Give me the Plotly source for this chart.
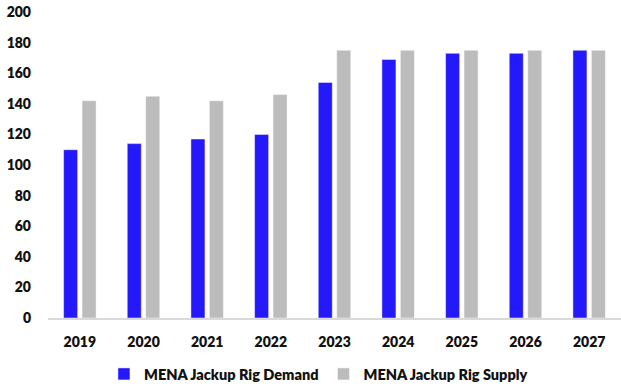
import plotly.graph_objects as go

# MENA jackup rig market: demand vs supply by year
years = ["2019", "2020", "2021", "2022", "2023", "2024", "2025", "2026", "2027"]
demand = [110, 114, 117, 120, 154, 169, 173, 173, 175]
supply = [142, 145, 142, 146, 175, 175, 175, 175, 175]
y_ticks = [0, 20, 40, 60, 80, 100, 120, 140, 160, 180, 200]
series_names = ["MENA Jackup Rig Demand", "MENA Jackup Rig Supply"]

font_family = "Lato, Liberation Sans, Arial, sans-serif"
edge = dict(color="rgba(255,255,255,0.45)", width=1)

fig = go.Figure()
fig.add_trace(go.Bar(
    x=years, y=demand, name=series_names[0],
    marker=dict(color="#2419fa", line=edge),
))
fig.add_trace(go.Bar(
    x=years, y=supply, name=series_names[1],
    marker=dict(color="#bcbcbc", line=edge),
))

bold = dict(family=font_family, color="#111111", weight=800)

fig.update_layout(
    width=621, height=387,
    margin=dict(l=48, r=0, t=12, b=69, autoexpand=False),
    paper_bgcolor="white", plot_bgcolor="white",
    barmode="group", bargap=0.42, bargroupgap=0.24,
    font=dict(family=font_family, size=13, color="#111111"),
    showlegend=True,
    legend=dict(
        orientation="h", x=0.472, xanchor="center", y=-0.183, yanchor="middle",
        font=dict(size=14.5, **bold),
        itemwidth=30, bgcolor="rgba(0,0,0,0)",
    ),
    xaxis=dict(
        showline=True, linecolor="#d9d9d9", linewidth=2,
        showgrid=False, ticks="", ticklabelstandoff=10,
        tickfont=dict(size=14, **bold),
    ),
    yaxis=dict(
        range=[0, 200], tickvals=y_ticks,
        showgrid=False, showline=False,
        zeroline=False, ticks="", ticklabelstandoff=16,
        tickfont=dict(size=14, **bold),
    ),
)

fig.write_html("out.html")
